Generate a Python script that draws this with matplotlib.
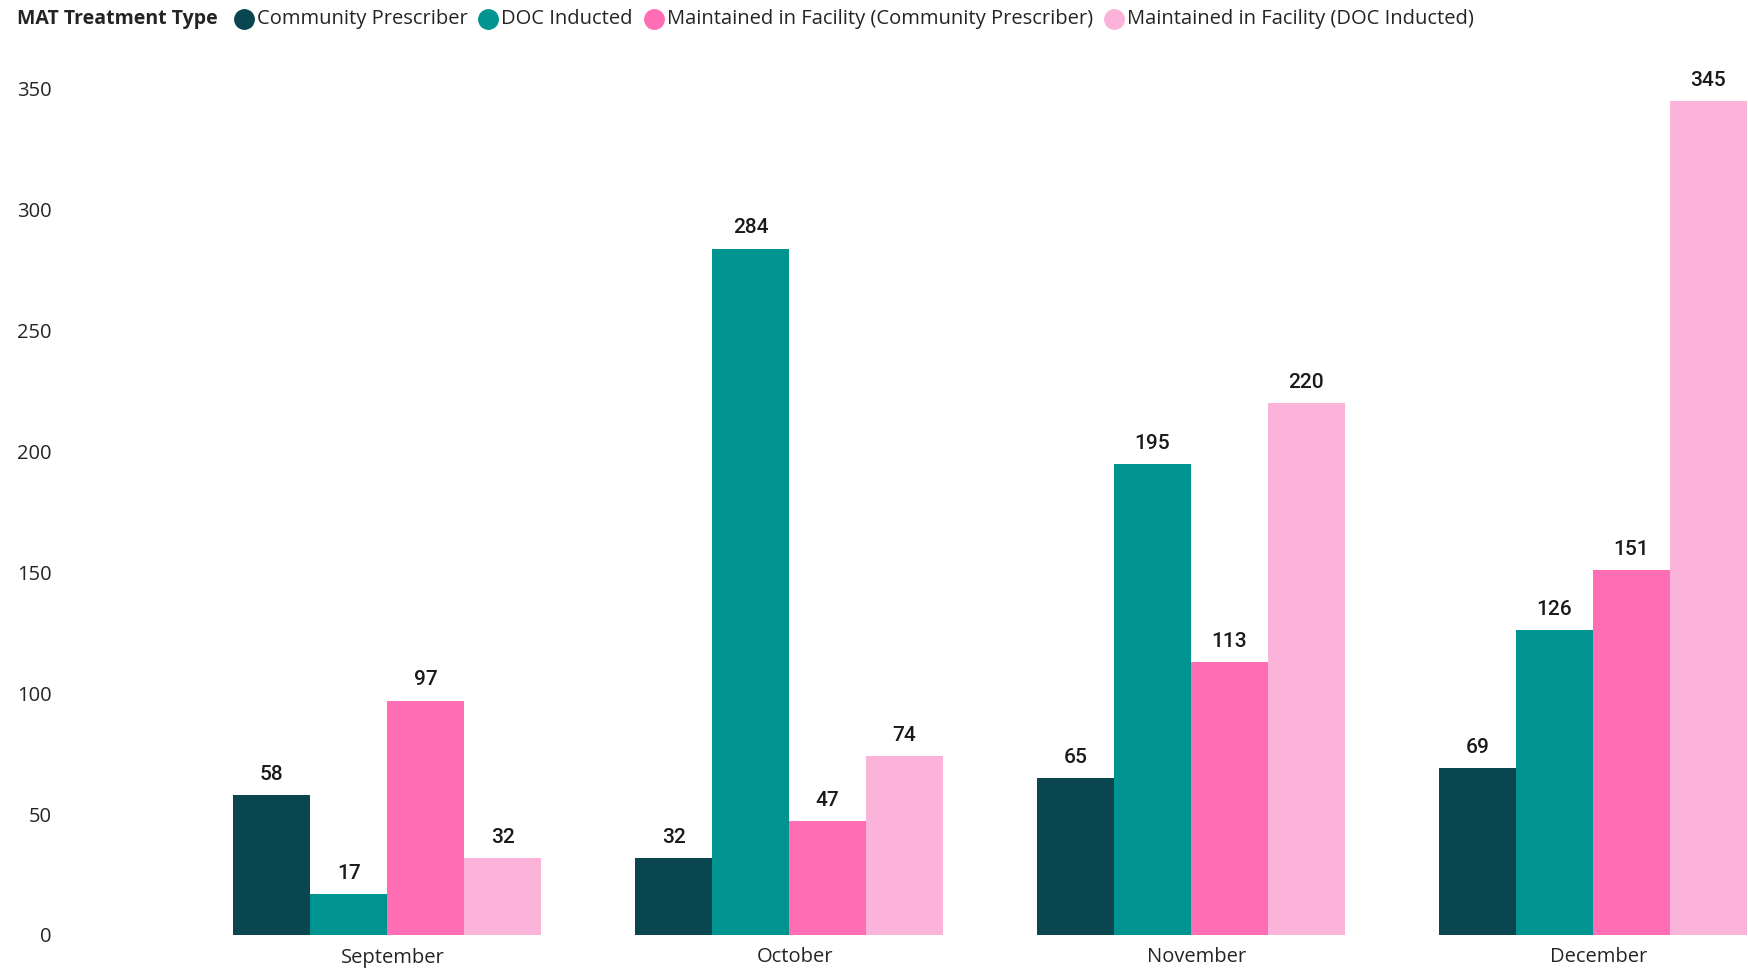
import matplotlib.pyplot as plt
import matplotlib.transforms as mtransforms
import numpy as np

# data
months = ["September", "October", "November", "December"]
series_names = [
    "Community Prescriber",
    "DOC Inducted",
    "Maintained in Facility (Community Prescriber)",
    "Maintained in Facility (DOC Inducted)",
]
community = [58, 32, 65, 69]
doc_inducted = [17, 284, 195, 126]
maint_community = [97, 47, 113, 151]
maint_doc = [32, 74, 220, 345]
values = [community, doc_inducted, maint_community, maint_doc]
colors = ["#094650", "#009490", "#FF6DB4", "#FCB3D9"]

W, H = 1749, 969
fig = plt.figure(figsize=(W / 100, H / 100), dpi=100)
# axes box in pixels: left 70, right 1748, bottom 935, top 89
ax = fig.add_axes([70 / W, (H - 935) / H, (1748 - 70) / W, (935 - 89) / H])

x = np.arange(len(months))
bw = 0.1915
for i, vals in enumerate(values):
    pos = x + (i - 1.5) * bw
    bars = ax.bar(pos, vals, width=bw, color=colors[i], linewidth=0)
    for b, v in zip(bars, vals):
        ax.annotate(str(v), (b.get_x() + b.get_width() / 2, v),
                    xytext=(0, 8), textcoords="offset points",
                    ha="center", va="bottom", fontsize=15,
                    family="Roboto", fontweight="medium", color="#1a1a1a",
                    annotation_clip=False)

ax.set_xlim(-0.789, 3.386)
ax.set_ylim(0, 350)
ax.set_yticks(range(0, 351, 50))
ax.set_xticks(x)
ax.set_xticklabels(months)
for s in ax.spines.values():
    s.set_visible(False)
ax.tick_params(axis="both", length=0, labelsize=14.5, labelcolor="#252423")
ax.tick_params(axis="y", pad=13)
ax.tick_params(axis="x", pad=9)
shift = mtransforms.ScaledTranslation(6 / 100, 0, fig.dpi_scale_trans)
for lab in ax.get_xticklabels():
    lab.set_family("Open Sans")
    lab.set_transform(lab.get_transform() + shift)
for lab in ax.get_yticklabels():
    lab.set_family("Open Sans")

# legend drawn by hand, title on the left
fig.canvas.draw()
r = fig.canvas.get_renderer()
ly = 1 - 19 / H
t = fig.text(17 / W, ly, "MAT Treatment Type", fontsize=14, family="Open Sans",
             fontweight="bold", color="#252423", va="center")
xp = t.get_window_extent(r).x1 + 26
for name, c in zip(series_names, colors):
    fig.add_artist(plt.Line2D([xp / W], [ly], marker="o", markersize=14,
                              color=c, linestyle="none", transform=fig.transFigure))
    tt = fig.text((xp + 13) / W, ly, name, fontsize=14.5, family="Open Sans",
                  color="#252423", va="center")
    xp = tt.get_window_extent(r).x1 + 21

fig.savefig("out.png", dpi=100)
